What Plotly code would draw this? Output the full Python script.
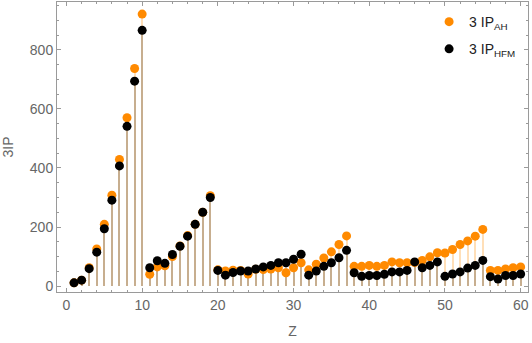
import plotly.graph_objects as go

z = list(range(1, 61))

ip_ah = [11, 20, 62, 126, 209, 308, 429, 570, 737, 921,
         40, 65, 69, 100, 136, 171, 209, 250, 306, 55,
         51, 54, 53, 41, 57, 56, 58, 62, 45, 62,
         79, 55, 74, 95, 116, 141, 170, 67, 67, 70,
         67, 70, 82, 79, 79, 80, 87, 99, 113, 112,
         124, 141, 153, 169, 192, 53, 53, 58, 62, 65]

ip_hfm = [11, 20, 59, 115, 194, 291, 407, 541, 694, 866,
          62, 86, 77, 107, 135, 169, 209, 250, 300, 53,
          37, 46, 51, 51, 58, 65, 70, 79, 79, 91,
          108, 37, 51, 67, 79, 96, 121, 45, 33, 36,
          36, 40, 48, 48, 53, 82, 62, 70, 82, 33,
          41, 48, 61, 70, 87, 32, 24, 36, 36, 41]

orange = '#ff8a00'
axis_grey = '#9a9a9a'
text_grey = '#666666'

fig = go.Figure()

# stems (filling to axis), drawn as thin bars
fig.add_trace(go.Bar(x=z, y=ip_ah, width=0.27, marker_color='rgba(255,140,0,0.28)',
                     marker_line_width=0, showlegend=False, hoverinfo='skip'))
fig.add_trace(go.Bar(x=z, y=ip_hfm, width=0.27, marker_color='rgba(0,0,0,0.22)',
                     marker_line_width=0, showlegend=False, hoverinfo='skip'))

fig.add_trace(go.Scatter(x=z, y=ip_ah, mode='markers', name='3 IP<sub>AH</sub>',
                         legendgroup='a', marker=dict(color=orange, size=9)))
fig.add_trace(go.Scatter(x=z, y=ip_hfm, mode='markers', name='3 IP<sub>HFM</sub>',
                         legendgroup='b', marker=dict(color='black', size=9)))

axis_style = dict(showgrid=False, zeroline=False, showline=True, linecolor=axis_grey,
                  linewidth=1, mirror='allticks', ticks='inside', ticklen=4,
                  tickcolor=axis_grey, tickfont=dict(size=14, color=text_grey),
                  title_font=dict(size=14, color=text_grey), automargin=False)

fig.update_xaxes(range=[-1.25, 60.97], tick0=0, dtick=10, title_text='Z',
                 title_standoff=14,
                 minor=dict(dtick=2, ticklen=2, ticks='inside', tickcolor=axis_grey),
                 **axis_style)
fig.update_yaxes(range=[-20, 962], tick0=0, dtick=200, title_text='3IP',
                 minor=dict(dtick=50, ticklen=2, ticks='inside', tickcolor=axis_grey),
                 **axis_style)

fig.update_layout(
    width=532, height=343,
    margin=dict(l=57, r=4, t=2, b=51),
    barmode='overlay', bargap=0,
    plot_bgcolor='white', paper_bgcolor='white',
    font=dict(family='Liberation Sans'),
    legend=dict(x=0.79, y=0.986, xanchor='left', yanchor='top', tracegroupgap=6,
                bgcolor='rgba(0,0,0,0)', font=dict(size=14, color='#222222')),
)

# page body has a default margin; drop it so the figure sits at the corner
fig.write_html("out.html", config={'displayModeBar': False},
               post_script="document.body.style.margin='0';")
